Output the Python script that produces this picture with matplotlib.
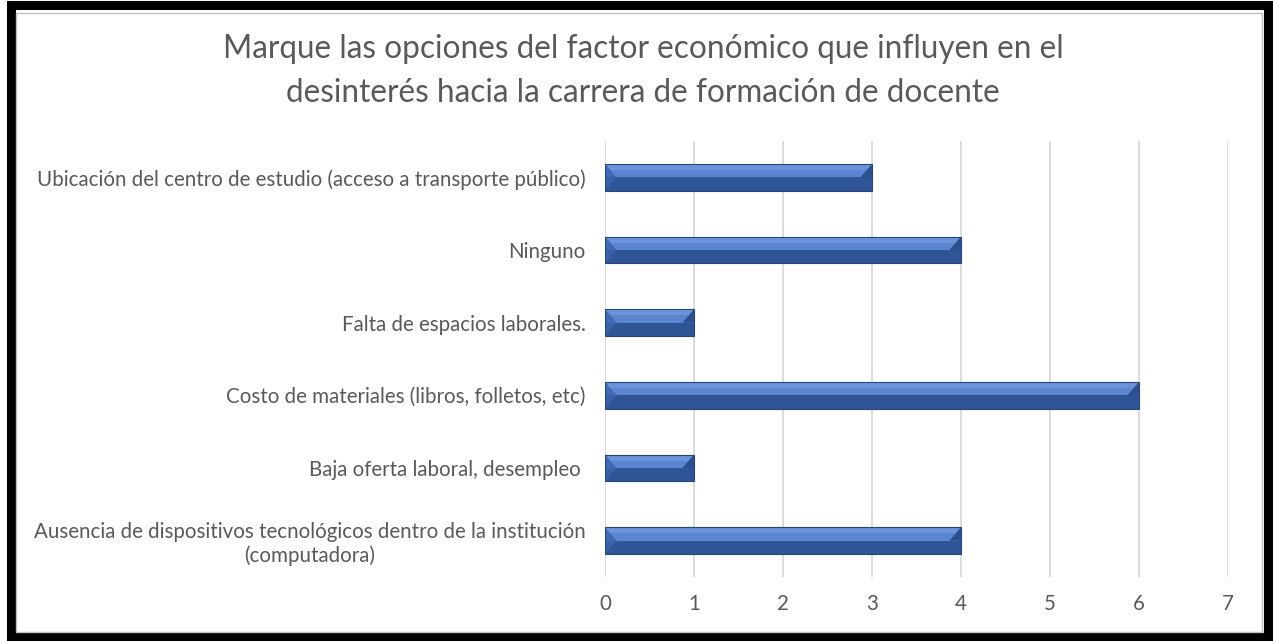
import matplotlib
matplotlib.use("Agg")
import matplotlib.pyplot as plt
from matplotlib.patches import Polygon, Rectangle

categories = [
    "Ubicación del centro de estudio (acceso a transporte público)",
    "Ninguno",
    "Falta de espacios laborales.",
    "Costo de materiales (libros, folletos, etc)",
    "Baja oferta laboral, desempleo ",
    "Ausencia de dispositivos tecnológicos dentro de la institución\n(computadora)",
]
values = [3, 4, 1, 6, 1, 4]
xticks = [0, 1, 2, 3, 4, 5, 6, 7]
title = "Marque las opciones del factor económico que influyen en el\ndesinterés hacia la carrera de formación de docente"

plt.rcParams['font.family'] = ['Lato', 'DejaVu Sans']

W, H = 1273, 641
fig = plt.figure(figsize=(W / 100, H / 100), dpi=100)
ax = fig.add_axes([605 / W, 1 - 577 / H, (1228 - 605) / W, (577 - 141) / H])

ypos = list(range(len(categories)))
bh = 0.37
ax.barh(ypos, values, height=bh, color="#2F5597", edgecolor="none", zorder=2)

b = 0.13  # bevel width in x units
for y, v in zip(ypos, values):
    top = y - bh / 2   # visually top (axis inverted)
    bot = y + bh / 2
    mid = y
    q = top + (mid - top) * 0.45
    # upper light band (two tones)
    ax.add_patch(Polygon([(0, top), (v, top), (v, q), (0, q)], closed=True,
                         facecolor="#6B93DB", edgecolor="none", zorder=3))
    ax.add_patch(Polygon([(0, q), (v, q), (v, mid), (0, mid)], closed=True,
                         facecolor="#5C85D0", edgecolor="none", zorder=3))
    # left bevel (upper medium, lower darker)
    ax.add_patch(Polygon([(0, top), (b, mid), (0, mid)], closed=True,
                         facecolor="#4169B3", edgecolor="none", zorder=4))
    ax.add_patch(Polygon([(0, mid), (b, mid), (0, bot)], closed=True,
                         facecolor="#3960A8", edgecolor="none", zorder=4))
    # right bevel (dark)
    ax.add_patch(Polygon([(v, top), (v - b, mid), (v, mid)], closed=True,
                         facecolor="#2C4F8E", edgecolor="none", zorder=4))
    ax.add_patch(Rectangle((0, top), v, bh, facecolor="none", edgecolor="#2A4677",
                           linewidth=0.8, zorder=5))

ax.set_xlim(0, 7)
ax.set_ylim(len(categories) - 0.5, -0.5)
ax.set_xticks(xticks)
ax.set_yticks(ypos)
ax.set_yticklabels(categories, multialignment="center")
ax.tick_params(axis="both", length=0, colors="#595959", labelsize=14.8)
ax.tick_params(axis="x", pad=12)
ax.tick_params(axis="y", pad=14)
for s in ax.spines.values():
    s.set_visible(False)
ax.grid(axis="x", color="#D9D9D9", linewidth=1.3, zorder=0)
ax.set_axisbelow(True)

fig.text(643 / W, 1 - 71 / H, title, ha="center", va="center", fontsize=22.7,
         color="#595959", linespacing=1.55)

# outer border
fig.patches.append(Rectangle((11 / W, 4 / H), (1268 - 11) / W, (636 - 4) / H,
                             transform=fig.transFigure, fill=False,
                             edgecolor="black", linewidth=6.5))
fig.patches.append(Rectangle((16 / W, 9 / H), (1262 - 16) / W, (628 - 9) / H,
                             transform=fig.transFigure, fill=False,
                             edgecolor="#BFBFBF", linewidth=1))

fig.savefig("out.png", dpi=100)
